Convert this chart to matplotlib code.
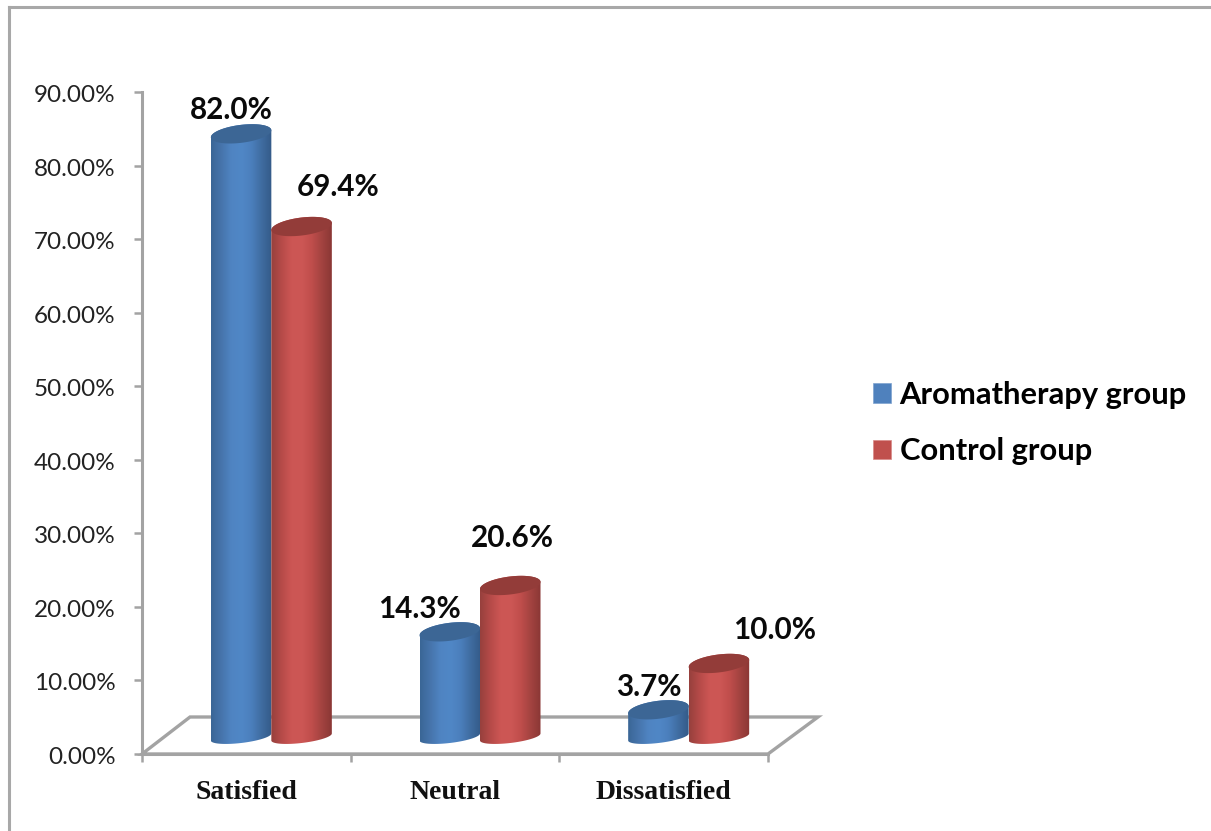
import numpy as np
import matplotlib
matplotlib.use("Agg")
import matplotlib.pyplot as plt
from matplotlib.patches import Patch, PathPatch, Polygon
from matplotlib.path import Path
from matplotlib.colors import LinearSegmentedColormap
from matplotlib.transforms import ScaledTranslation

categories = ["Satisfied", "Neutral", "Dissatisfied"]
series_names = ["Aromatherapy group", "Control group"]
aromatherapy = [82.0, 14.3, 3.7]
control = [69.4, 20.6, 10.0]
y_ticks = [0, 10, 20, 30, 40, 50, 60, 70, 80, 90]

W, H = 1211, 831
fig = plt.figure(figsize=(W / 100, H / 100), dpi=100, facecolor="white")
L, R, T, B = 142, 768, 92, 754
ax = fig.add_axes([L / W, 1 - B / H, (R - L) / W, (B - T) / H])
ax.set_xlim(0, 3)
ax.set_ylim(0, 90)
ax.patch.set_alpha(0)

px = 3 / (R - L)       # data units per pixel, x
py = 90 / (B - T)      # data units per pixel, y
GRAY = "#a3a3a3"

# outer frame
fig.add_artist(plt.Line2D([9 / W, 9 / W], [0, 1 - 7 / H], color="#a8a8a8", lw=2.2))
fig.add_artist(plt.Line2D([9 / W, 1], [1 - 7 / H, 1 - 7 / H], color="#a8a8a8", lw=2.2))

# floor
floor = Polygon([(0, 0), (48 * px, 37 * py), (3 + 50 * px, 37 * py), (3, 0)],
                closed=True, fill=False, edgecolor=GRAY, lw=2.4, clip_on=False, zorder=1)
ax.add_patch(floor)

blue_cmap = LinearSegmentedColormap.from_list(
    "b", ["#3a6696", "#4674ab", "#4f84c2", "#5087c6", "#4b7fbc", "#3f6ca0", "#345a88"])
red_cmap = LinearSegmentedColormap.from_list(
    "r", ["#96403d", "#b54a48", "#cc5654", "#cd5755", "#c04e4c", "#a34340", "#8a3735"])
grad = np.linspace(0, 1, 256).reshape(1, -1)

bar_w = 60.5 * px
a = bar_w / 2
b_top = 9.0 * py
b_low = 6.0 * py
tilt = 3.5 * py
base = 17 * py


def ell(cx, cy, t, semi):
    return cx + a * np.cos(t), cy + semi * np.sin(t) + tilt * np.cos(t)


def cylinder(cx, value, cmap, top_color, z):
    top = value + base
    t_low = np.linspace(np.pi, 2 * np.pi, 60)
    xl, yl = ell(cx, base, t_low, b_low)
    xt, yt = ell(cx, top, np.linspace(0, np.pi, 60), b_top)
    verts = np.vstack([np.column_stack([xl, yl]), np.column_stack([xt, yt]), [[xl[0], yl[0]]]])
    codes = [Path.MOVETO] + [Path.LINETO] * (len(verts) - 2) + [Path.CLOSEPOLY]
    clip = PathPatch(Path(verts, codes), transform=ax.transData, fc="none", ec="none")
    ax.add_patch(clip)
    im = ax.imshow(grad, cmap=cmap, aspect="auto", zorder=z,
                   extent=[cx - a, cx + a, 0, top + b_top + tilt], interpolation="bilinear")
    im.set_clip_path(clip)
    tt = np.linspace(0, 2 * np.pi, 120)
    xe, ye = ell(cx, top, tt, b_top)
    ax.fill(xe, ye, color=top_color, zorder=z + 0.1, lw=0)


shift = 25 * px
x_base = np.arange(len(categories)) + 0.5 + shift
blue_off = [(-10, 24), (-30, 23), (-10, 23)]
red_off = [(37, 40), (2, 47), (56, 33)]

for i in range(len(categories)):
    xb = x_base[i] - a
    xr = x_base[i] + a
    cylinder(xb, aromatherapy[i], blue_cmap, "#3c6695", 3)
    cylinder(xr, control[i], red_cmap, "#933c39", 4)
    for xc, v, off in ((xb, aromatherapy[i], blue_off[i]), (xr, control[i], red_off[i])):
        ax.annotate(f"{v:.1f}%", xy=(xc, v + base), xytext=(off[0] * 0.72, off[1] * 0.72),
                    textcoords="offset points", ha="center", va="center",
                    family="Lato", fontweight="bold", fontsize=21.3, color="#0a0a0a", zorder=6)

ax.set_xlim(0, 3)
ax.set_ylim(0, 90)

# axes
for s in ("top", "right"):
    ax.spines[s].set_visible(False)
for s in ("left", "bottom"):
    ax.spines[s].set_color(GRAY)
    ax.spines[s].set_linewidth(2.2)

ax.set_yticks(y_ticks)
ax.set_yticklabels([f"{v:.2f}%" for v in y_ticks], family="Lato", fontsize=17.5, color="#222222")
ax.tick_params(axis="y", length=6, width=1.8, color=GRAY, pad=13)
nudge = ScaledTranslation(0, -1.5 / 100, fig.dpi_scale_trans)
for lab in ax.get_yticklabels():
    lab.set_transform(lab.get_transform() + nudge)
ax.set_xticks(range(len(categories) + 1))
ax.set_xticklabels([])
ax.tick_params(axis="x", which="major", length=6, width=1.8, color=GRAY)
ax.set_xticks(np.arange(len(categories)) + 0.5, minor=True)
ax.set_xticklabels(categories, minor=True, family="Liberation Serif", fontweight="bold",
                   fontsize=20, color="#111111")
ax.tick_params(axis="x", which="minor", length=0, pad=19)

handles = [Patch(facecolor="#4f81bd", edgecolor="#7fa3d0", lw=0.5),
           Patch(facecolor="#c0504d", edgecolor="#d88a88", lw=0.5)]
fig.legend(handles, series_names, loc="center left",
           bbox_to_anchor=(845 / W, 1 - 423 / H), frameon=False,
           prop={"family": "Lato", "weight": "bold", "size": 22.2},
           handlelength=0.58, handleheight=0.58, handletextpad=0.29, labelspacing=0.92)

fig.savefig("out.png", dpi=100, facecolor="white")
